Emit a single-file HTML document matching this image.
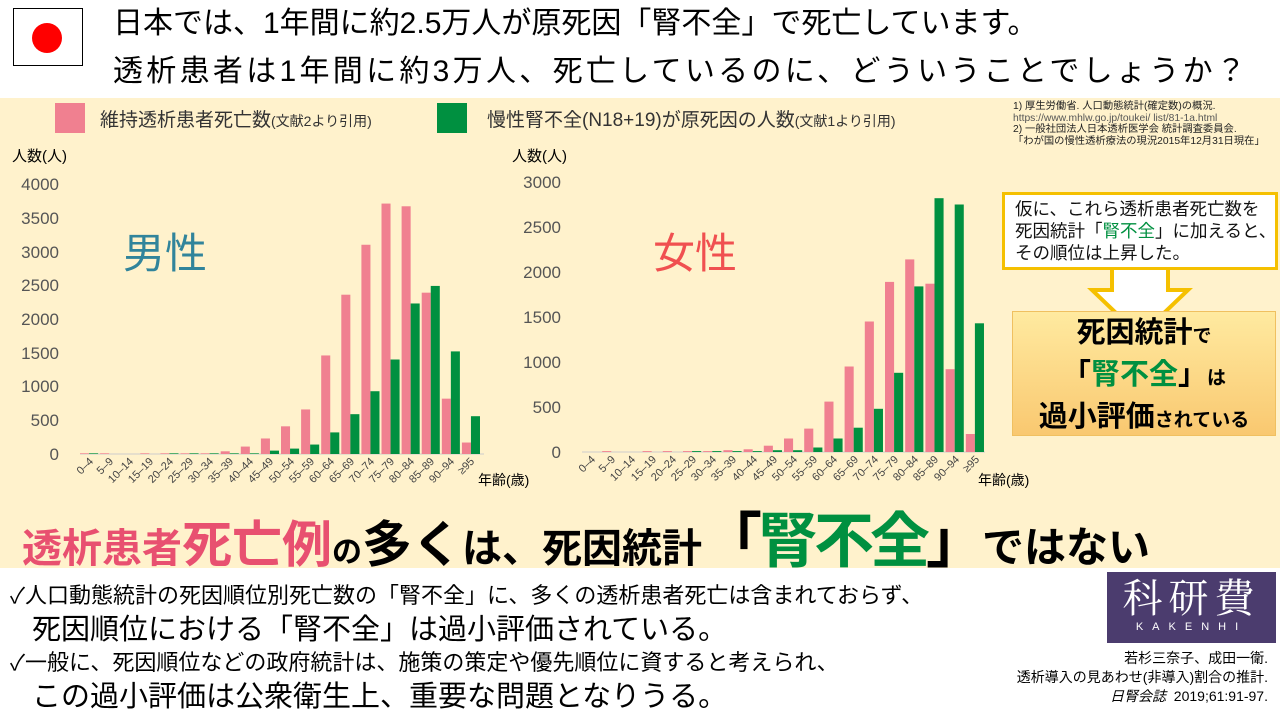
<!DOCTYPE html>
<html><head><meta charset="utf-8"><style>
*{margin:0;padding:0;box-sizing:border-box}
body{width:1280px;height:720px;overflow:hidden;background:#fff;position:relative;font-family:"Liberation Sans","Noto Sans CJK JP",sans-serif;color:#000}
.abs{position:absolute;white-space:nowrap}
</style></head><body>
<div class="abs" style="left:13px;top:8px;width:70px;height:58px;border:1px solid #000;background:#fff"><div style="position:absolute;left:18px;top:14px;width:30px;height:30px;border-radius:50%;background:#f00"></div></div>
<div class="abs" style="left:113px;top:0px;font-size:30px;line-height:48px">日本では、1年間に約2.5万人が原死因「腎不全」で死亡しています。<br><span style="letter-spacing:3.3px">透析患者は1年間に約3万人、死亡しているのに、どういうことでしょうか？</span></div>
<div class="abs" style="left:0;top:98px;width:1280px;height:470px;background:#FFF2CC"></div>
<div class="abs" style="left:55px;top:103px;width:30px;height:30px;background:#F08090"></div>
<div class="abs" style="left:100px;top:105px;font-size:19px;color:#333">維持透析患者死亡数<span style="font-size:14px">(文献2より引用)</span></div>
<div class="abs" style="left:437px;top:103px;width:30px;height:30px;background:#009040"></div>
<div class="abs" style="left:487px;top:105px;font-size:19px;color:#333">慢性腎不全(N18+19)が原死因の人数<span style="font-size:14px">(文献1より引用)</span></div>
<div class="abs" style="left:1013px;top:101px;font-size:10.3px;line-height:11.5px;color:#222">1) 厚生労働省. 人口動態統計(確定数)の概況.<br><span style="color:#555">https://www.mhlw.go.jp/toukei/ list/81-1a.html</span><br>2) 一般社団法人日本透析医学会 統計調査委員会.<br>「わが国の慢性透析療法の現況2015年12月31日現在」</div>

<svg class="abs" style="left:0;top:0" width="1040" height="520" font-family="Liberation Sans, Noto Sans CJK JP, sans-serif">
<text x="12" y="161" font-size="15">人数(人)</text>
<g font-size="17" fill="#555" text-anchor="end">
<text x="59" y="190">4000</text><text x="59" y="224">3500</text><text x="59" y="258">3000</text><text x="59" y="291">2500</text><text x="59" y="325">2000</text><text x="59" y="359">1500</text><text x="59" y="392">1000</text><text x="59" y="426">500</text><text x="59" y="460">0</text>
</g>
<text x="123" y="268" font-size="42" fill="#31849B">男性</text>
<line x1="80" y1="454" x2="484" y2="454" stroke="#ccc"/>
<g transform="translate(80,454) scale(20.1,-0.0675)" fill="#F08090">
<rect x="0" width=".45" height="10"/><rect x="1" width=".45" height="10"/><rect x="3" width=".45" height="10"/><rect x="4" width=".45" height="10"/><rect x="5" width=".45" height="10"/><rect x="6" width=".45" height="10"/><rect x="7" width=".45" height="40"/><rect x="8" width=".45" height="110"/><rect x="9" width=".45" height="230"/><rect x="10" width=".45" height="410"/><rect x="11" width=".45" height="660"/><rect x="12" width=".45" height="1460"/><rect x="13" width=".45" height="2360"/><rect x="14" width=".45" height="3100"/><rect x="15" width=".45" height="3710"/><rect x="16" width=".45" height="3670"/><rect x="17" width=".45" height="2390"/><rect x="18" width=".45" height="820"/><rect x="19" width=".45" height="170"/>
</g>
<g transform="translate(80,454) scale(20.1,-0.0675)" fill="#009040">
<rect x="0.45" width=".45" height="10"/><rect x="4.45" width=".45" height="10"/><rect x="5.45" width=".45" height="10"/><rect x="6.45" width=".45" height="10"/><rect x="7.45" width=".45" height="10"/><rect x="8.45" width=".45" height="10"/><rect x="9.45" width=".45" height="50"/><rect x="10.45" width=".45" height="80"/><rect x="11.45" width=".45" height="140"/><rect x="12.45" width=".45" height="320"/><rect x="13.45" width=".45" height="590"/><rect x="14.45" width=".45" height="930"/><rect x="15.45" width=".45" height="1400"/><rect x="16.45" width=".45" height="2230"/><rect x="17.45" width=".45" height="2490"/><rect x="18.45" width=".45" height="1520"/><rect x="19.45" width=".45" height="560"/>
</g>
<g font-size="11" fill="#444" text-anchor="end">
<text transform="translate(94,462) rotate(-45)">0–4</text><text transform="translate(114,462) rotate(-45)">5–9</text><text transform="translate(134,462) rotate(-45)">10–14</text><text transform="translate(154,462) rotate(-45)">15–19</text><text transform="translate(174,462) rotate(-45)">20–24</text><text transform="translate(194,462) rotate(-45)">25–29</text><text transform="translate(214,462) rotate(-45)">30–34</text><text transform="translate(234,462) rotate(-45)">35–39</text><text transform="translate(254,462) rotate(-45)">40–44</text><text transform="translate(274,462) rotate(-45)">45–49</text><text transform="translate(295,462) rotate(-45)">50–54</text><text transform="translate(315,462) rotate(-45)">55–59</text><text transform="translate(335,462) rotate(-45)">60–64</text><text transform="translate(355,462) rotate(-45)">65–69</text><text transform="translate(375,462) rotate(-45)">70–74</text><text transform="translate(395,462) rotate(-45)">75–79</text><text transform="translate(415,462) rotate(-45)">80–84</text><text transform="translate(435,462) rotate(-45)">85–89</text><text transform="translate(455,462) rotate(-45)">90–94</text><text transform="translate(475,462) rotate(-45)">≥95</text>
</g>
<text x="478" y="485" font-size="14">年齢(歳)</text>

<text x="512" y="161" font-size="15">人数(人)</text>
<g font-size="17" fill="#555" text-anchor="end">
<text x="561" y="188">3000</text><text x="561" y="233">2500</text><text x="561" y="278">2000</text><text x="561" y="323">1500</text><text x="561" y="368">1000</text><text x="561" y="413">500</text><text x="561" y="458">0</text>
</g>
<text x="653" y="268" font-size="42" fill="#F05050">女性</text>
<line x1="582" y1="452" x2="985" y2="452" stroke="#ccc"/>
<g transform="translate(582,452) scale(20.2,-0.09)" fill="#F08090">
<rect x="1" width=".45" height="10"/><rect x="3" width=".45" height="10"/><rect x="4" width=".45" height="10"/><rect x="5" width=".45" height="10"/><rect x="6" width=".45" height="10"/><rect x="7" width=".45" height="20"/><rect x="8" width=".45" height="30"/><rect x="9" width=".45" height="70"/><rect x="10" width=".45" height="150"/><rect x="11" width=".45" height="260"/><rect x="12" width=".45" height="560"/><rect x="13" width=".45" height="950"/><rect x="14" width=".45" height="1450"/><rect x="15" width=".45" height="1890"/><rect x="16" width=".45" height="2140"/><rect x="17" width=".45" height="1870"/><rect x="18" width=".45" height="920"/><rect x="19" width=".45" height="200"/>
</g>
<g transform="translate(582,452) scale(20.2,-0.09)" fill="#009040">
<rect x="5.45" width=".45" height="10"/><rect x="6.45" width=".45" height="10"/><rect x="7.45" width=".45" height="10"/><rect x="8.45" width=".45" height="10"/><rect x="9.45" width=".45" height="20"/><rect x="10.45" width=".45" height="20"/><rect x="11.45" width=".45" height="50"/><rect x="12.45" width=".45" height="150"/><rect x="13.45" width=".45" height="270"/><rect x="14.45" width=".45" height="480"/><rect x="15.45" width=".45" height="880"/><rect x="16.45" width=".45" height="1840"/><rect x="17.45" width=".45" height="2820"/><rect x="18.45" width=".45" height="2750"/><rect x="19.45" width=".45" height="1430"/>
</g>
<g font-size="11" fill="#444" text-anchor="end">
<text transform="translate(596,460) rotate(-45)">0–4</text><text transform="translate(616,460) rotate(-45)">5–9</text><text transform="translate(636,460) rotate(-45)">10–14</text><text transform="translate(657,460) rotate(-45)">15–19</text><text transform="translate(677,460) rotate(-45)">20–24</text><text transform="translate(697,460) rotate(-45)">25–29</text><text transform="translate(717,460) rotate(-45)">30–34</text><text transform="translate(737,460) rotate(-45)">35–39</text><text transform="translate(758,460) rotate(-45)">40–44</text><text transform="translate(778,460) rotate(-45)">45–49</text><text transform="translate(798,460) rotate(-45)">50–54</text><text transform="translate(818,460) rotate(-45)">55–59</text><text transform="translate(838,460) rotate(-45)">60–64</text><text transform="translate(859,460) rotate(-45)">65–69</text><text transform="translate(879,460) rotate(-45)">70–74</text><text transform="translate(899,460) rotate(-45)">75–79</text><text transform="translate(919,460) rotate(-45)">80–84</text><text transform="translate(939,460) rotate(-45)">85–89</text><text transform="translate(960,460) rotate(-45)">90–94</text><text transform="translate(980,460) rotate(-45)">≥95</text>
</g>
<text x="978" y="485" font-size="14">年齢(歳)</text>
</svg>

<svg class="abs" style="left:1000px;top:190px" width="280" height="160">
<polygon points="112,78 112,100 92,100 140,146 188,100 168,100 168,78" fill="#fff" stroke="#F5C000" stroke-width="4"/>
</svg>
<div class="abs" style="left:1002px;top:192px;width:276px;height:78px;background:#fff;border:3px solid #F5C000;font-size:17.5px;line-height:22px;padding:3px 0 0 10px;color:#111">仮に、これら透析患者死亡数を<br>死因統計「<span style="color:#009040">腎不全</span>」に加えると、<br>その順位は上昇した。</div>
<div class="abs" style="left:1012px;top:311px;width:264px;height:125px;background:linear-gradient(#FFEAA0,#F9C870);border:1px solid #F0C060;text-align:center;font-weight:bold;font-size:29px;line-height:39px;padding-top:2px">死因統計<span style="font-size:19px">で</span><br>「<span style="color:#009040">腎不全</span>」<span style="font-size:19px">は</span><br>過小評価<span style="font-size:19px">されている</span></div>

<div class="abs" style="left:22px;top:511px;font-weight:bold;line-height:62px">
<span style="font-size:40px;color:#E85070">透析患者</span><span style="font-size:50px;color:#E85070">死亡例</span><span style="font-size:30px">の</span><span style="font-size:50px">多く</span><span style="font-size:40px">は、死因統計</span><span style="font-size:60px;letter-spacing:-4px">「<span style="color:#009040">腎不全</span>」</span><span style="font-size:42px">ではない</span></div>

<div class="abs" style="left:10px;top:582px;font-size:22px;line-height:28px">✓人口動態統計の死因順位別死亡数の「腎不全」に、多くの透析患者死亡は含まれておらず、</div>
<div class="abs" style="left:32px;top:613px;font-size:29px;line-height:34px">死因順位における「腎不全」は過小評価されている。</div>
<div class="abs" style="left:10px;top:649px;font-size:22px;line-height:28px">✓一般に、死因順位などの政府統計は、施策の策定や優先順位に資すると考えられ、</div>
<div class="abs" style="left:32px;top:680px;font-size:29px;line-height:34px">この過小評価は公衆衛生上、重要な問題となりうる。</div>

<div class="abs" style="left:1107px;top:572px;width:169px;height:71px;background:#4B3C6E;color:#fff;text-align:center">
<div style="font-size:40px;line-height:48px;letter-spacing:6px;font-family:'Noto Serif CJK SC',serif">科研費</div>
<div style="font-size:11px;letter-spacing:9px;line-height:14px">KAKENHI</div></div>
<div class="abs" style="right:12px;top:649px;text-align:right;font-size:14px;line-height:19px">若杉三奈子、成田一衛.<br>透析導入の見あわせ(非導入)割合の推計.<br><i>日腎会誌</i>&nbsp; 2019;61:91-97.</div>
</body></html>
